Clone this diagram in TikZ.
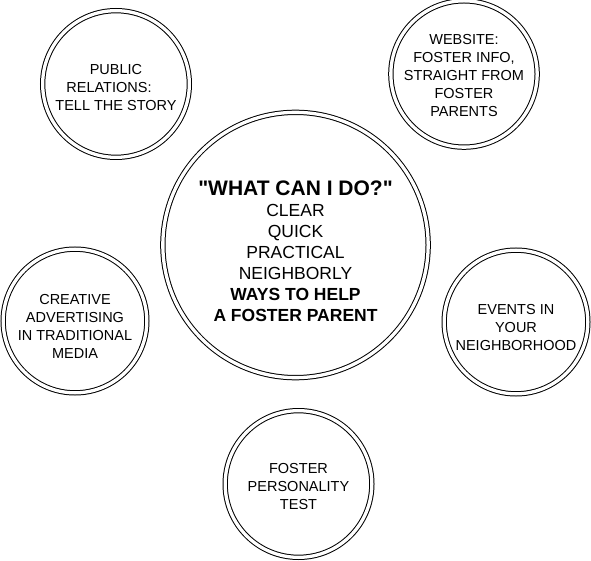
\documentclass[tikz,border=0pt]{standalone}
\usepackage{fontspec}
\setmainfont{Liberation Sans}[Ligatures=TeXOff]
\newcommand\dropline[1]{\rule{0pt}{#1}}

\begin{document}
\begin{tikzpicture}[x=1pt,y=-1pt,
  ring/.style={circle,draw,line width=1pt,double,double distance=3.3pt,
    inner sep=0pt,align=center,font=\fontsize{14.5}{18}\selectfont}]
  \useasboundingbox (0,0) rectangle (591,561);
  % centre
  \node[ring,minimum size=265.3pt] (help) at (295.5,245) {};
  \node[align=center,inner sep=0pt,font=\fontsize{17.5}{21}\selectfont]
    (helptext) at ([yshift=-6pt]help.center)
    {{\fontsize{21}{22}\selectfont\bfseries "WHAT CAN I DO?"}\\
     CLEAR\\ QUICK\\ PRACTICAL\\ NEIGHBORLY\\
     \textbf{WAYS TO HELP}\\ \textbf{A FOSTER PARENT}};
  % round it
  \node[ring,minimum size=146.7pt] (story) at (116,84)
    {\dropline{16.4pt}PUBLIC\\ RELATIONS:\rule{14pt}{0pt}\\ TELL THE STORY};
  \node[ring,minimum size=141.7pt] (website) at (464,74)
    {\dropline{12.4pt}WEBSITE:\\ FOSTER INFO,\\ STRAIGHT FROM\\ FOSTER\\ PARENTS};
  \node[ring,minimum size=143.7pt] (advert) at (75,321)
    {\dropline{20.4pt}CREATIVE\\ ADVERTISING\\ IN TRADITIONAL\\ MEDIA};
  \node[ring,minimum size=143.7pt] (events) at (516,322)
    {\dropline{20.4pt}EVENTS IN\\ YOUR\\ NEIGHBORHOOD};
  \node[ring,minimum size=146.7pt] (test) at (298.5,484)
    {\dropline{15.4pt}FOSTER\\ PERSONALITY\\ TEST};
\end{tikzpicture}
\end{document}
